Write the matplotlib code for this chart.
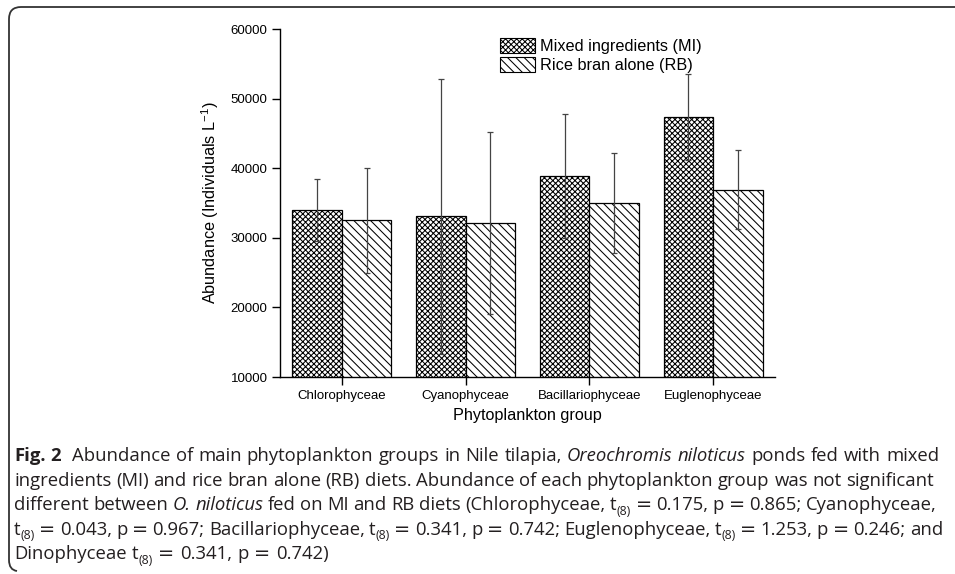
import re
import numpy as np
import matplotlib
matplotlib.use("Agg")
import matplotlib.pyplot as plt
from matplotlib.patches import Patch, PathPatch
from matplotlib.path import Path

# ---------------- data ----------------
categories = ["Chlorophyceae", "Cyanophyceae", "Bacillariophyceae", "Euglenophyceae"]
mi_mean = [34000, 33100, 38900, 47400]
mi_err = [4400, 19750, 8900, 6200]
rb_mean = [32500, 32100, 35000, 36900]
rb_err = [7500, 13100, 7200, 5700]
series_labels = ["Mixed ingredients (MI)", "Rice bran alone (RB)"]
y_ticks = [10000, 20000, 30000, 40000, 50000, 60000]

caption_lines = [
    "**Fig. 2**  Abundance of main phytoplankton groups in Nile tilapia, *Oreochromis niloticus* ponds fed with mixed",
    "ingredients (MI) and rice bran alone (RB) diets. Abundance of each phytoplankton group was not significant",
    "different between *O. niloticus* fed on MI and RB diets (Chlorophyceae, t_{(8)} = 0.175, p = 0.865; Cyanophyceae,",
    "t_{(8)} = 0.043, p = 0.967; Bacillariophyceae, t_{(8)} = 0.341, p = 0.742; Euglenophyceae, t_{(8)} = 1.253, p = 0.246; and",
    "Dinophyceae t_{(8)} = 0.341, p = 0.742)",
]

# ---------------- figure ----------------
W, H = 955, 574
plt.rcParams["hatch.linewidth"] = 0.75
plt.rcParams["mathtext.fontset"] = "custom"
plt.rcParams["mathtext.rm"] = "Liberation Sans"
plt.rcParams["mathtext.it"] = "Liberation Sans:italic"
plt.rcParams["mathtext.bf"] = "Liberation Sans:bold"
fig = plt.figure(figsize=(W / 100, H / 100), dpi=100)
chart_font = "Liberation Sans"

ax = fig.add_axes([280 / W, 1 - 377 / H, 495 / W, 348 / H])
x = np.arange(len(categories))
bw = 0.4
mi_hatch = "xxxxxx"
rb_hatch = "\\\\\\\\"
ax.bar(x - bw / 2, mi_mean, bw, color="white", edgecolor="black", hatch=mi_hatch,
       linewidth=0.9, label=series_labels[0], zorder=2)
ax.bar(x + bw / 2, rb_mean, bw, color="white", edgecolor="black", hatch=rb_hatch,
       linewidth=0.9, label=series_labels[1], zorder=2)
ax.errorbar(x - bw / 2, mi_mean, yerr=mi_err, fmt="none", ecolor="#444444",
            elinewidth=0.9, capsize=2.5, capthick=0.9, zorder=3)
ax.errorbar(x + bw / 2, rb_mean, yerr=rb_err, fmt="none", ecolor="#444444",
            elinewidth=0.9, capsize=2.5, capthick=0.9, zorder=3)

ax.set_xlim(-0.5, len(categories) - 0.5)
ax.set_ylim(y_ticks[0], y_ticks[-1])
ax.set_yticks(y_ticks)
ax.set_yticklabels([str(t) for t in y_ticks], fontsize=9.5, family=chart_font)
ax.set_xticks(x)
ax.set_xticklabels(categories, fontsize=9.5, family=chart_font)
ax.spines["top"].set_visible(False)
ax.spines["right"].set_visible(False)
ax.spines["left"].set_linewidth(1.0)
ax.spines["bottom"].set_linewidth(1.0)
ax.tick_params(axis="both", direction="out", length=6, width=1.0, pad=3)
ax.set_xlabel("Phytoplankton group", fontsize=11.7, family=chart_font, labelpad=5)
ax.set_ylabel("Abundance (Individuals L$^{-1}$)", fontsize=11.7, family=chart_font, labelpad=7)

handles = [Patch(facecolor="white", edgecolor="black", hatch=mi_hatch, linewidth=0.8),
           Patch(facecolor="white", edgecolor="black", hatch=rb_hatch, linewidth=0.8)]
ax.legend(handles, series_labels, loc="upper left", bbox_to_anchor=(0.445, 0.975),
          frameon=False, prop={"family": chart_font, "size": 11.7},
          handlelength=2.15, handleheight=1.05, handletextpad=0.3, labelspacing=0.2,
          borderpad=0.0, borderaxespad=0.0)

# ---------------- frame ----------------
r = 12
verts = [(W + 5, 7), (9 + r, 7), (9, 7), (9, 7 + r), (9, 560), (9, 570), (17, 571)]
codes = [Path.MOVETO, Path.LINETO, Path.CURVE3, Path.CURVE3, Path.LINETO, Path.CURVE3, Path.CURVE3]
fverts = [(vx / W, 1 - vy / H) for vx, vy in verts]
fig.add_artist(PathPatch(Path(fverts, codes), transform=fig.transFigure,
                         fill=False, edgecolor="#333333", linewidth=1.3))

# ---------------- caption ----------------
cap_font = "Open Sans"
renderer = fig.canvas.get_renderer()


def parse(line):
    segs = []
    for part in re.split(r"(\*\*.+?\*\*|\*.+?\*|_\{.+?\})", line):
        if not part:
            continue
        if part.startswith("**"):
            segs.append((part[2:-2], "b"))
        elif part.startswith("_{"):
            segs.append((part[2:-1], "s"))
        elif part.startswith("*"):
            segs.append((part[1:-1], "i"))
        else:
            segs.append((part, "n"))
    words = [[]]
    for t, st in segs:
        parts = t.split(" ")
        for i, p in enumerate(parts):
            if i > 0:
                words.append([])
            if p:
                words[-1].append((p, "m" if p == "=" else st))
    return words


def style_kw(st, size):
    kw = dict(family=cap_font, fontsize=size, color="#231f20")
    if st == "b":
        kw["fontweight"] = "bold"
    elif st == "i":
        kw["fontstyle"] = "italic"
    elif st == "s":
        kw["fontsize"] = size * 0.66
    elif st == "m":
        kw["family"] = "DejaVu Sans"
        kw["fontsize"] = size * 1.05
    return kw


def width_of(s, st, size):
    t = fig.text(0, 0, s, **style_kw(st, size))
    w = t.get_window_extent(renderer).width
    t.remove()
    return w


def natural_width(line, size):
    words = parse(line)
    sp = width_of("x x", "n", size) - width_of("xx", "n", size)
    return sum(width_of(s, st, size) for w in words for s, st in w) + sp * (len(words) - 1)


x0 = 14
right_edges = [939, 934, 937, 943, None]
ref_size = 10.0
cap_size = ref_size * (right_edges[1] - x0) / natural_width(caption_lines[1], ref_size)

space_w = width_of("x x", "n", cap_size) - width_of("xx", "n", cap_size)
base0, lead = 461, 24.6
for li, line in enumerate(caption_lines):
    words = parse(line)
    wwidths = [sum(width_of(s, st, cap_size) for s, st in w) for w in words]
    ngaps = len(words) - 1
    natural = sum(wwidths) + ngaps * space_w
    if right_edges[li] is not None and ngaps > 0:
        gap = space_w + (right_edges[li] - x0 - natural) / ngaps
    else:
        gap = space_w * 1.15
    cx = x0
    yb = base0 + li * lead
    for w, ww in zip(words, wwidths):
        for s, st in w:
            yy = yb + (4.5 if st == "s" else 0)
            fig.text(cx / W, 1 - yy / H, s, ha="left", va="baseline", **style_kw(st, cap_size))
            cx += width_of(s, st, cap_size)
        cx += gap

fig.savefig("out.png", dpi=100)
